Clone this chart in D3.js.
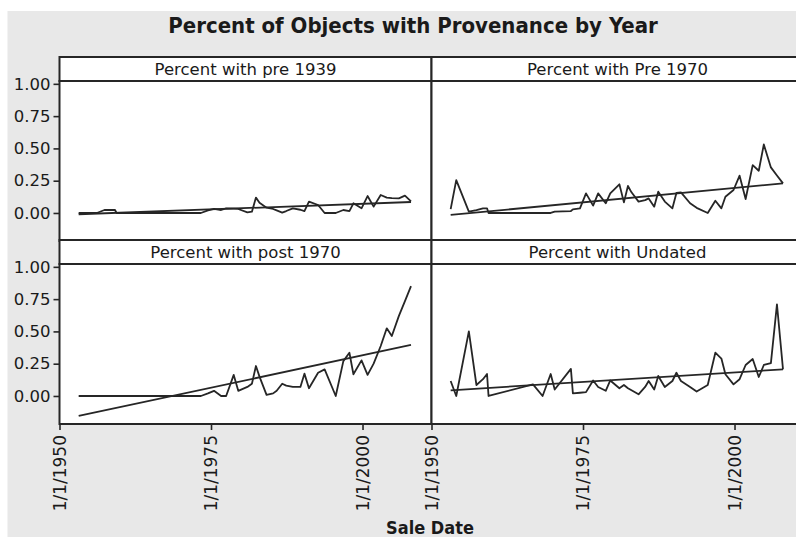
<!DOCTYPE html>
<html>
<head>
<meta charset="utf-8">
<script src="https://cdn.jsdelivr.net/npm/d3@7"></script>
<style>
  html, body { margin: 0; padding: 0; background: #ffffff; }
  svg { display: block; }
  text { font-family: "DejaVu Sans", Verdana, sans-serif; fill: #1a1a1a; }
</style>
</head>
<body>
<script>
// Sale dates (year-month) shared by all four provenance series
const saleDates = [
  "1953-03","1954-02","1956-03","1957-06","1958-07","1959-03","1959-06","1966-10",
  "1968-05","1969-09","1970-05","1973-01","1973-05","1974-07","1975-07","1976-09",
  "1977-07","1978-10","1979-07","1981-01","1981-10","1982-06","1983-01","1984-03",
  "1985-04","1985-11","1986-10","1987-06","1988-07","1989-10","1990-06","1991-03",
  "1992-09","1993-10","1995-08","1996-11","1997-11","1998-07","1999-11","2000-11",
  "2001-11","2003-01","2004-01","2004-11","2006-01","2007-01","2008-01"
];

// Share of objects in each provenance class, per sale date
const pre1939 = [
  0.000,0.000,0.000,0.023,0.023,0.023,0.000,0.000,0.000,0.000,0.000,0.000,0.000,0.020,
  0.031,0.023,0.036,0.033,0.031,0.005,0.010,0.119,0.080,0.041,0.031,0.020,0.003,0.015,
  0.036,0.025,0.015,0.088,0.062,0.000,0.000,0.023,0.015,0.075,0.036,0.131,0.049,0.139,
  0.119,0.115,0.113,0.134,0.090
];
const pre1970 = [
  0.030,0.255,0.010,0.023,0.036,0.036,0.000,0.000,0.000,0.000,0.010,0.015,0.028,0.036,
  0.152,0.057,0.152,0.075,0.152,0.222,0.082,0.209,0.160,0.088,0.100,0.113,0.049,0.165,
  0.088,0.036,0.155,0.160,0.075,0.040,0.000,0.095,0.036,0.126,0.178,0.289,0.108,0.371,
  0.327,0.531,0.353,0.290,0.229
];
const post1970 = [
  0.000,0.000,0.000,0.000,0.000,0.000,0.000,0.000,0.000,0.000,0.000,0.000,0.000,0.020,
  0.040,0.000,0.000,0.163,0.040,0.070,0.095,0.232,0.150,0.008,0.020,0.040,0.095,0.080,
  0.070,0.070,0.173,0.060,0.180,0.206,0.000,0.270,0.335,0.168,0.276,0.163,0.250,0.387,
  0.524,0.464,0.620,0.735,0.850
];
const undated = [
  0.116,0.000,0.500,0.085,0.130,0.170,0.000,0.090,0.000,0.170,0.050,0.210,0.020,0.025,
  0.030,0.120,0.070,0.040,0.120,0.060,0.085,0.060,0.044,0.013,0.070,0.116,0.050,0.155,
  0.070,0.116,0.180,0.116,0.070,0.034,0.085,0.335,0.290,0.168,0.090,0.130,0.240,0.286,
  0.147,0.240,0.255,0.710,0.206
];

// Fitted linear trend for each panel: value at first and last sale date
const trendStart = [-0.010, -0.015, -0.155, 0.044];
const trendEnd   = [ 0.085,  0.229,  0.395, 0.206];

const panelTitles = [
  "Percent with pre 1939", "Percent with Pre 1970",
  "Percent with post 1970", "Percent with Undated"
];
const yTicks = [0, 0.25, 0.5, 0.75, 1];
const xTickDates = ["1950-01-01", "1975-01-01", "2000-01-01"];

const W = 796, H = 537;
const parseYM = d3.timeParse("%Y-%m");
const parseYMD = d3.timeParse("%Y-%m-%d");
const fmtTick = d3.timeFormat("%-m/%-d/%Y");

const svg = d3.select("body").append("svg")
  .attr("width", W).attr("height", H);

// page background
svg.append("rect").attr("x", 7.5).attr("y", 11).attr("width", W).attr("height", H)
  .attr("fill", "#e8e8e8");

svg.append("text")
  .attr("x", 413).attr("y", 33)
  .attr("text-anchor", "middle")
  .style("font-family", "'DejaVu Sans Condensed', 'DejaVu Sans', sans-serif")
  .style("font-stretch", "condensed")
  .style("font-weight", "bold")
  .style("font-size", "22px")
  .text("Percent of Objects with Provenance by Year");

// panel geometry
const colX = [59.5, 431.5];
const panelW = 372;
const rowTop = [57, 240];
const stripH = 24;
const plotH = 160;

const dates = saleDates.map(parseYM);
const x = d3.scaleTime()
  .domain([parseYMD("1950-01-01"), parseYMD("2011-05-20")])
  .range([0, panelW]);
const y = d3.scaleLinear().domain([-0.217, 1.022]).range([plotH, 0]);

const series = [pre1939, pre1970, post1970, undated];
const line = d3.line().x(d => x(d[0])).y(d => y(d[1]));

const ink = "#262626";

series.forEach((vals, i) => {
  const col = i % 2, row = Math.floor(i / 2);
  const g = svg.append("g")
    .attr("transform", `translate(${colX[col]},${rowTop[row]})`);

  // strip header
  g.append("rect").attr("width", panelW).attr("height", stripH)
    .attr("fill", "#ffffff").attr("stroke", ink).attr("stroke-width", 2);
  g.append("text")
    .attr("x", panelW / 2).attr("y", stripH / 2 + 6)
    .attr("text-anchor", "middle")
    .style("font-size", "16.5px")
    .text(panelTitles[i]);

  const p = g.append("g").attr("transform", `translate(0,${stripH})`);
  p.append("rect").attr("width", panelW).attr("height", plotH)
    .attr("fill", "#ffffff").attr("stroke", ink).attr("stroke-width", 2);

  // observed share
  p.append("path")
    .datum(dates.map((d, k) => [d, vals[k]]))
    .attr("d", line)
    .attr("fill", "none").attr("stroke", ink).attr("stroke-width", 1.8)
    .attr("stroke-linejoin", "round");

  // linear trend
  p.append("path")
    .datum([[dates[0], trendStart[i]], [dates[dates.length - 1], trendEnd[i]]])
    .attr("d", line)
    .attr("fill", "none").attr("stroke", ink).attr("stroke-width", 1.8);

  if (col === 0) {
    const ay = p.append("g")
      .call(d3.axisLeft(y).tickValues(yTicks).tickFormat(d3.format(".2f"))
        .tickSize(6).tickPadding(3));
    ay.select(".domain").remove();
    ay.selectAll("line").attr("stroke", ink).attr("stroke-width", 1.6);
    ay.selectAll("text").style("font-size", "16.5px").attr("fill", "#1a1a1a")
      .style("font-family", "'DejaVu Sans', sans-serif");
  }

  if (row === 1) {
    const ax = p.append("g").attr("transform", `translate(0,${plotH})`)
      .call(d3.axisBottom(x).tickValues(xTickDates.map(parseYMD))
        .tickFormat(fmtTick).tickSize(6).tickPadding(5));
    ax.select(".domain").remove();
    ax.selectAll("line").attr("stroke", ink).attr("stroke-width", 1.6);
    ax.selectAll("text")
      .style("font-size", "17px").attr("fill", "#1a1a1a")
      .style("font-family", "'DejaVu Sans', sans-serif")
      .attr("transform", "rotate(-90)")
      .attr("text-anchor", "end")
      .attr("x", -11).attr("y", 0).attr("dy", "0.35em");
  }
});

// x-axis title
svg.append("text")
  .attr("x", 430).attr("y", 534)
  .attr("text-anchor", "middle")
  .style("font-family", "'DejaVu Sans Condensed', 'DejaVu Sans', sans-serif")
  .style("font-stretch", "condensed")
  .style("font-weight", "bold")
  .style("font-size", "18px")
  .text("Sale Date");
</script>
</body>
</html>
